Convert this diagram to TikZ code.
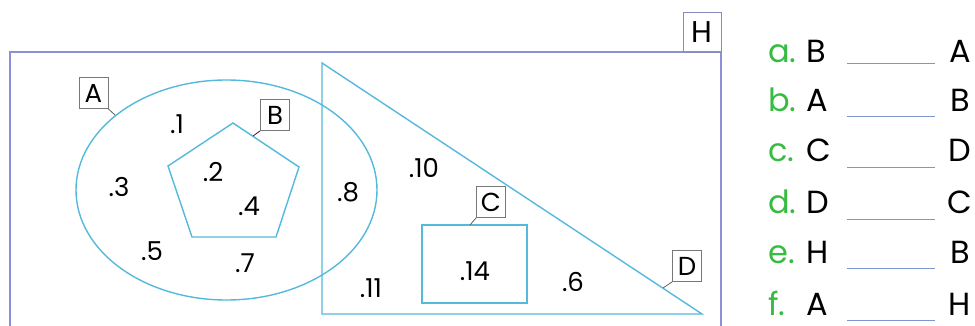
\documentclass[tikz,border=0pt]{standalone}
\usepackage{fontspec}
\setmainfont{Poppins}
\usetikzlibrary{shapes.geometric}
\definecolor{shapec}{RGB}{85,185,220}
\definecolor{framec}{RGB}{140,145,215}
\definecolor{grn}{RGB}{55,188,65}
\definecolor{ulinec}{RGB}{125,150,205}
\definecolor{boxc}{RGB}{120,120,120}
\begin{document}
\begin{tikzpicture}[x=1pt,y=-1pt,
  shp/.style={draw=shapec, line width=1.4pt},
  lbl/.style={draw=boxc, fill=white, line width=0.8pt, inner sep=0pt, minimum width=29, minimum height=31, font=\fontsize{26}{26}\selectfont},
  num/.style={font=\fontsize{26}{26}\selectfont, inner sep=0pt},
  conn/.style={draw=boxc!80!black, line width=0.8pt},
  itm/.style={font=\fontsize{32}{32}\selectfont, inner sep=0pt, anchor=base west},
  rgt/.style={font=\fontsize{32}{32}\selectfont, inner sep=0pt, anchor=base},
  grnl/.style={itm, text=grn},
  ul/.style={draw=ulinec, line width=1pt}]
\useasboundingbox (0,0) rectangle (975,326);
% frame H
\draw[draw=framec, line width=1.2pt] (10,326) -- (10,52) -- (721,52) -- (721,326);
\node[draw=framec!70!gray, line width=0.8pt, minimum width=38, minimum height=40, inner sep=0pt, font=\fontsize{30}{30}\selectfont] (H) at (702,32) {H};
% ellipse A
\node[shp, ellipse, minimum width=301, minimum height=220, inner sep=0pt] (A) at (226.5,190) {};
% pentagon B
\coordinate (p1) at (233,123);
\coordinate (p2) at (299,167);
\coordinate (p3) at (276,237);
\coordinate (p4) at (192,237);
\coordinate (p5) at (168,166);
\draw[shp, line join=miter] (p1) -- (p2) -- (p3) -- (p4) -- (p5) -- cycle;
% triangle D
\coordinate (t1) at (322,63);
\coordinate (t2) at (322,314);
\coordinate (t3) at (702,314);
\draw[shp, line join=miter] (t1) -- (t2) -- (t3) -- cycle;
% rectangle C
\node[shp, minimum width=105, minimum height=78, inner sep=0pt] (C) at (474.5,264) {};
% labels
\node[lbl] (labA) at (93.5,93) {A};
\node[lbl] (labB) at (275,115) {B};
\node[lbl] (labC) at (491,202) {C};
\node[lbl] (labD) at (687,266) {D};
\coordinate (aA) at (115,115);
\coordinate (aB) at (253,136);
\coordinate (aC) at (470,225);
\coordinate (aD) at (663,288);
\draw[conn] (labA.south east) -- (aA);
\draw[conn, draw=purple!60!black] (labB.south west) -- (aB);
\draw[conn] (labC.south west) -- (aC);
\draw[conn] (labD.south west) -- (aD);
% numbers
\node[num] (n1) at (177,124) {.1};
\node[num] (n3) at (119,187) {.3};
\node[num] (n2) at (213,172) {.2};
\node[num] (n4) at (249,206) {.4};
\node[num] (n5) at (152,251) {.5};
\node[num] (n7) at (245,263) {.7};
\node[num] (n8) at (348,192) {.8};
\node[num] (n10) at (424,168) {.10};
\node[num] (n11) at (371,288) {.11};
\node[num] (n14) at (475,271) {.14};
\node[num] (n6) at (573,282) {.6};
% list
\foreach \k/\l/\r/\b/\u in {a/B/A/63/64, b/A/B/112/117, c/C/D/162/168, d/D/C/213/219, e/H/B/263/268, f/A/H/315/320}{
  \node[grnl] (k\k) at (768,\b) {\k.};
  \node[itm] (l\k) at (806,\b) {\l};
  \node[rgt] (r\k) at (960,\b) {\r};
  \coordinate (us\k) at (847,\u);
  \coordinate (ue\k) at (935,\u);
  \draw[ul] (us\k) -- (ue\k);
}
\end{tikzpicture}
\end{document}
